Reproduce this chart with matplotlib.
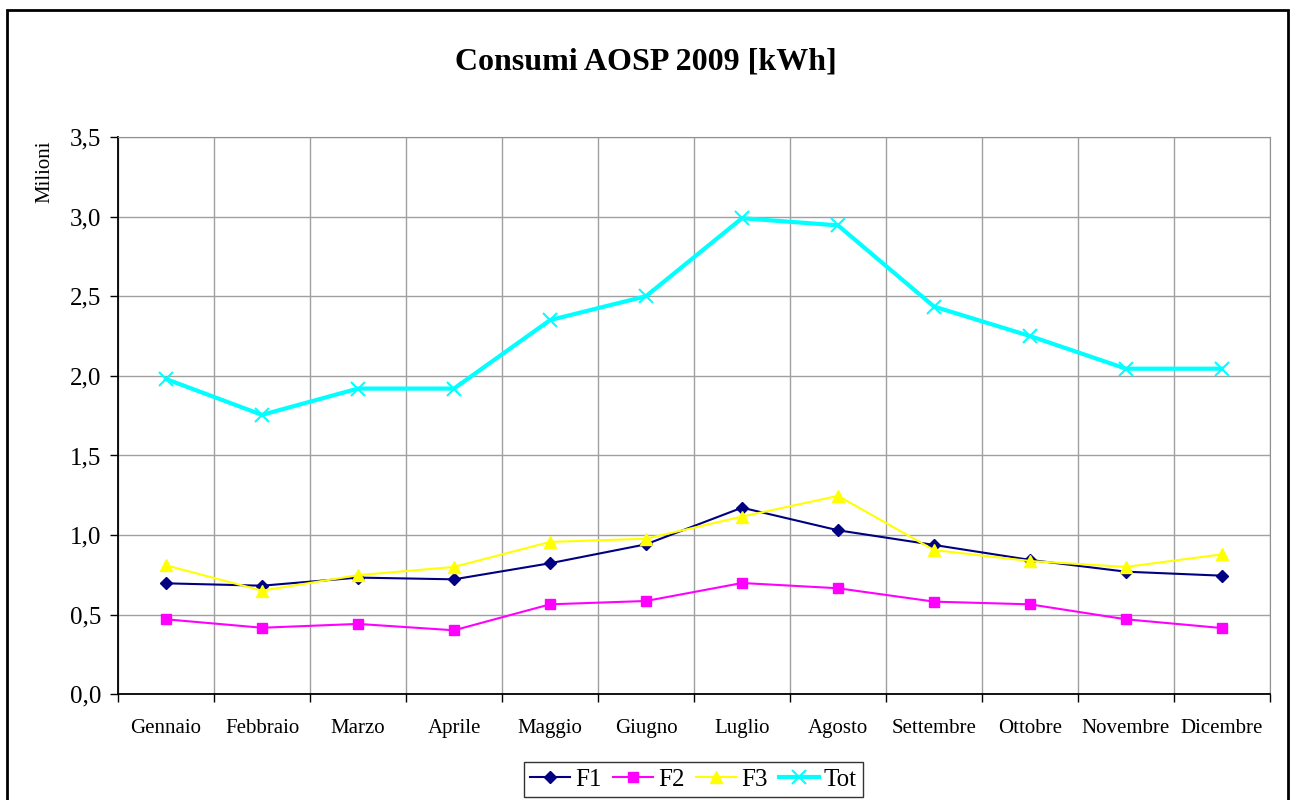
import matplotlib
matplotlib.use('Agg')
import matplotlib.pyplot as plt
import matplotlib.patches as mpatches
import numpy as np

# Monthly consumption, millions of kWh
mesi = ['Gennaio', 'Febbraio', 'Marzo', 'Aprile', 'Maggio', 'Giugno',
        'Luglio', 'Agosto', 'Settembre', 'Ottobre', 'Novembre', 'Dicembre']
f1 = [0.697, 0.682, 0.733, 0.722, 0.823, 0.942, 1.172, 1.030, 0.938, 0.844, 0.770, 0.745]
f2 = [0.471, 0.418, 0.442, 0.402, 0.565, 0.586, 0.699, 0.666, 0.582, 0.565, 0.471, 0.416]
f3 = [0.810, 0.651, 0.748, 0.800, 0.957, 0.977, 1.116, 1.246, 0.906, 0.837, 0.800, 0.879]
tot = [1.980, 1.755, 1.920, 1.920, 2.350, 2.500, 2.990, 2.945, 2.435, 2.250, 2.045, 2.045]

plt.rcParams['font.family'] = ['Liberation Serif', 'DejaVu Serif']

fig = plt.figure(figsize=(12.92, 8), dpi=100)
ax = fig.add_axes([118 / 1292, 1 - 694.3 / 800, (1270 - 118) / 1292, (694.3 - 137) / 800])

x = np.arange(len(mesi))
ax.plot(x, f1, color='#000080', marker='D', markersize=6.5, linewidth=1.5, label='F1', zorder=4)
ax.plot(x, f2, color='#FF00FF', marker='s', markersize=7, linewidth=1.5, label='F2', zorder=4)
ax.plot(x, f3, color='#FFFF00', marker='^', markersize=8, linewidth=1.5, label='F3', zorder=4)
ax.plot(x, tot, color='#00FFFF', marker='x', markersize=10, markeredgewidth=1.5,
        linewidth=3, label='Tot', zorder=4)

ax.set_xlim(-0.5, len(mesi) - 0.5)
ax.set_ylim(0, 3.5)
ax.set_yticks(np.arange(0, 3.51, 0.5))
ax.set_yticklabels([f'{v:.1f}'.replace('.', ',') for v in np.arange(0, 3.51, 0.5)])

# category boundaries as major ticks, names on minor ticks
ax.set_xticks(np.arange(-0.5, len(mesi), 1.0))
ax.set_xticklabels([])
ax.set_xticks(x, minor=True)
ax.set_xticklabels(mesi, minor=True)
ax.tick_params(axis='x', which='minor', length=0, pad=18, labelsize=15)
ax.tick_params(axis='x', which='major', length=6, width=1, direction='out')
ax.tick_params(axis='y', length=6, width=1, direction='out', pad=6, labelsize=18)

ax.grid(True, which='major', color='#a0a0a0', linewidth=1)
ax.set_axisbelow(True)
for side in ['top', 'right']:
    ax.spines[side].set_color('#909090')
for side in ['left', 'bottom']:
    ax.spines[side].set_color('black')
    ax.spines[side].set_linewidth(1.3)

fig.text(0.5, 1 - 62 / 800, 'Consumi AOSP 2009 [kWh]', ha='center', va='center',
         fontsize=23, fontweight='bold')
fig.text(45 / 1292, 1 - 172 / 800, 'Milioni', rotation=90, ha='center', va='center', fontsize=15)

leg = fig.legend(loc='upper center', bbox_to_anchor=(693.5 / 1292, 1 - 762 / 800), ncol=4,
                 fontsize=18, frameon=True, fancybox=False, edgecolor='black',
                 handlelength=1.6, handletextpad=0.2, columnspacing=0.45,
                 borderpad=0.25, borderaxespad=0)
leg.get_frame().set_linewidth(1)

# outer chart border
fig.patches.append(mpatches.Rectangle((7 / 1292, -0.05), (1288 - 7) / 1292, 1.05 - 10 / 800,
                                      transform=fig.transFigure, fill=False,
                                      edgecolor='black', linewidth=2, clip_on=False))

fig.savefig('out.png', dpi=100)
